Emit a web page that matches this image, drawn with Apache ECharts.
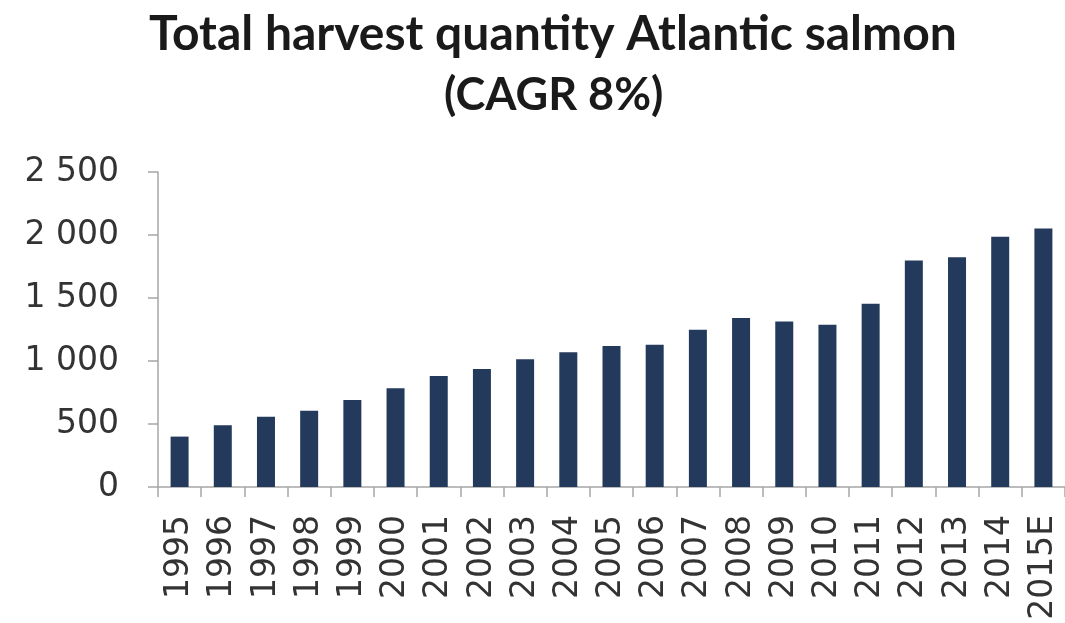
<!DOCTYPE html>
<html>
<head>
<meta charset="utf-8">
<script src="https://cdn.jsdelivr.net/npm/echarts@6/dist/echarts.min.js"></script>
<style>
html,body{margin:0;padding:0;background:#fff;}
#chart{width:1065px;height:623px;}
</style>
</head>
<body>
<div id="chart"></div>
<script>
const titleText = "Total harvest quantity Atlantic salmon";
const subtitleText = "(CAGR 8%)";
const years = ["1995","1996","1997","1998","1999","2000","2001","2002","2003","2004","2005","2006","2007","2008","2009","2010","2011","2012","2013","2014","2015E"];
const harvest = [400, 490, 557, 605, 690, 783, 881, 937, 1014, 1070, 1120, 1128, 1248, 1341, 1314, 1287, 1455, 1797, 1823, 1986, 2052];
const yTicks = [0, 500, 1000, 1500, 2000, 2500];

const chart = echarts.init(document.getElementById('chart'), null, {renderer: 'canvas'});
chart.setOption({
  animation: false,
  backgroundColor: '#ffffff',
  title: [
    {
      text: titleText,
      left: 144,
      top: 6,
      textStyle: {fontFamily: 'Lato', fontWeight: 'bold', fontSize: 48, color: '#1a1a1a'}
    },
    {
      text: subtitleText,
      left: 439,
      top: 68,
      textStyle: {fontFamily: 'Lato', fontWeight: 'bold', fontSize: 45, color: '#1a1a1a'}
    }
  ],
  grid: {left: 158, top: 172, bottom: 136, width: 910, containLabel: false},
  xAxis: {
    type: 'category',
    data: years,
    boundaryGap: true,
    axisLine: {show: true, lineStyle: {color: '#a6a6a6', width: 1.5}},
    axisTick: {show: true, alignWithLabel: false, length: 10, lineStyle: {color: '#a6a6a6', width: 1.5}},
    axisLabel: {
      rotate: 90,
      margin: 28,
      interval: 0,
      fontFamily: 'DejaVu Sans',
      fontSize: 33,
      color: '#333333'
    }
  },
  yAxis: {
    type: 'value',
    min: yTicks[0],
    max: yTicks[yTicks.length - 1],
    interval: 500,
    splitLine: {show: false},
    axisLine: {show: true, lineStyle: {color: '#a6a6a6', width: 1.5}},
    axisTick: {show: true, length: 10, lineStyle: {color: '#a6a6a6', width: 1.5}},
    axisLabel: {
      margin: 39,
      fontFamily: 'DejaVu Sans',
      fontSize: 33,
      color: '#333333',
      formatter: function (v) {
        const s = String(v);
        return s.length > 3 ? s.slice(0, s.length - 3) + ' ' + s.slice(-3) : s;
      }
    }
  },
  series: [{
    type: 'bar',
    data: harvest,
    barWidth: 18,
    itemStyle: {color: '#243a5c'}
  }]
});
</script>
</body>
</html>
